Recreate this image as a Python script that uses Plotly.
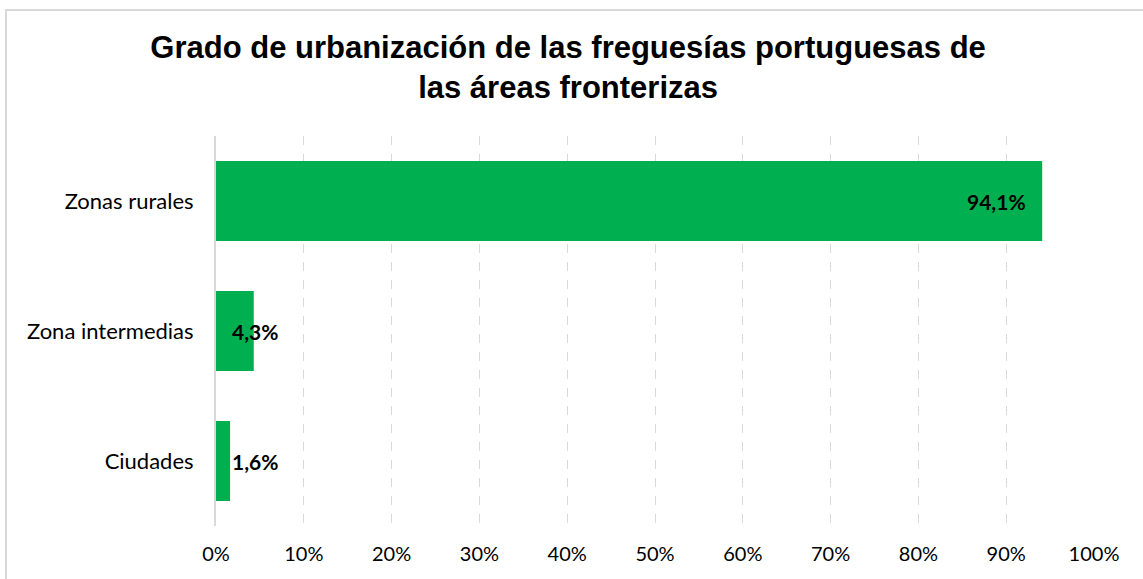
import plotly.graph_objects as go

categorias = ["Zonas rurales", "Zona intermedias", "Ciudades"]
valores = [94.1, 4.3, 1.6]
etiquetas = ["94,1%", "4,3%", "1,6%"]
ticks = list(range(0, 101, 10))
tick_labels = [f"{t}%" for t in ticks]

verde = "#00B050"
gris = "#D9D9D9"
fuente = "Lato"

fig = go.Figure()
fig.add_trace(go.Bar(
    y=categorias,
    x=valores,
    orientation="h",
    marker=dict(color=verde, line=dict(width=0)),
    width=0.615,
    hoverinfo="skip",
))

# etiquetas de datos: dentro al final si cabe, si no desde la base
for cat, v, lab in zip(categorias, valores, etiquetas):
    if v > 20:
        fig.add_annotation(x=v, y=cat, text=f"<b>{lab}</b>", showarrow=False,
                           xanchor="right", xshift=-14,
                           font=dict(family=fuente, size=21, color="black"))
    else:
        fig.add_annotation(x=0, y=cat, text=f"<b>{lab}</b>", showarrow=False,
                           xanchor="left", xshift=14,
                           font=dict(family=fuente, size=21, color="black"))

# marco del grafico
fig.add_shape(type="rect", xref="paper", yref="paper",
              x0=-0.2392, x1=1.07, y0=-0.2, y1=1.323,
              line=dict(color=gris, width=2), layer="above")

fig.update_layout(
    width=1143, height=579,
    paper_bgcolor="white", plot_bgcolor="white",
    margin=dict(l=216, r=49, t=136, b=53),
    showlegend=False,
    title=dict(
        text="<b>Grado de urbanización de las freguesías portuguesas de<br>las áreas fronterizas</b>",
        x=0.497, xanchor="center", y=0.9, yanchor="top",
        font=dict(family="Liberation Sans", size=31, color="black"),
    ),
    xaxis=dict(
        range=[0, 100], tickvals=ticks, ticktext=tick_labels,
        showgrid=True, gridcolor=gris, griddash="dash", gridwidth=1,
        zeroline=False, showline=False,
        tickfont=dict(family=fuente, size=20, color="black"),
        ticks="", ticklabelstandoff=14,
    ),
    yaxis=dict(
        autorange="reversed",
        showgrid=False, zeroline=False,
        showline=True, linecolor=gris, linewidth=2,
        tickfont=dict(family=fuente, size=22, color="black"),
        ticks="", ticklabelstandoff=16,
    ),
)

fig.write_html("out.html", config={"displayModeBar": False},
               post_script="document.body.style.margin='0';")
